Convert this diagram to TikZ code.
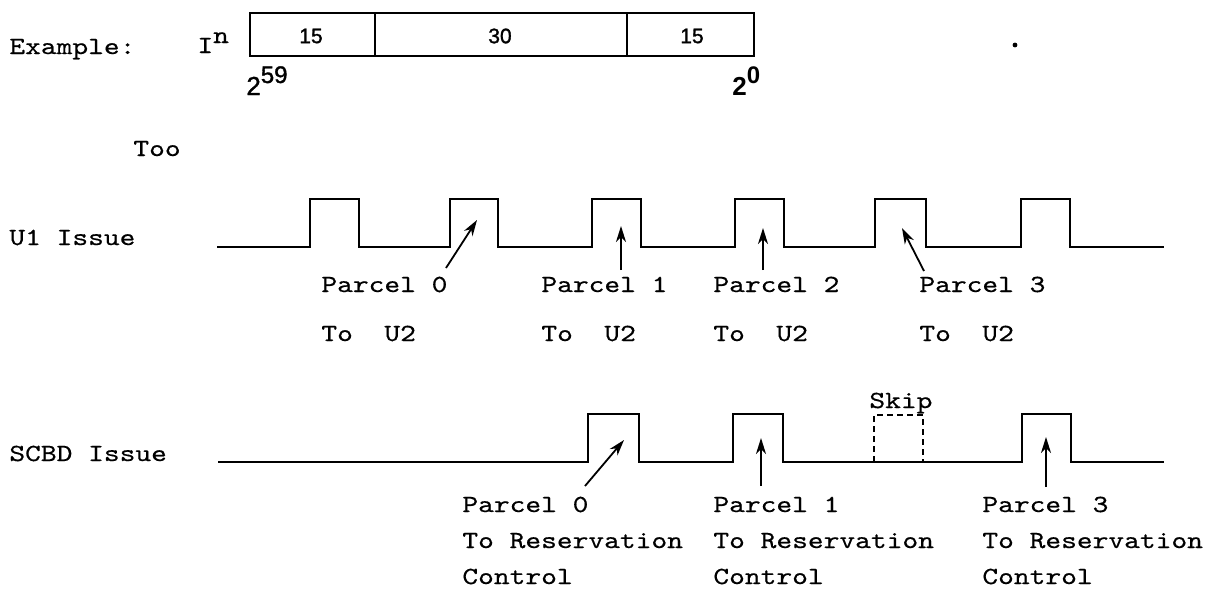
\documentclass[tikz,border=0pt]{standalone}
\usepackage{fontspec}
\usetikzlibrary{arrows.meta}
\newfontfamily\typew{lmmono10-regular.otf}[FakeStretch=1.22,FakeBold=0.5]
\newfontfamily\helv{Liberation Sans}[FakeBold=1.4]
\newfontfamily\helvb{Liberation Sans Bold}
\begin{document}
\begin{tikzpicture}[x=0.5pt,y=-0.5pt,
  tt/.style={font=\fontsize{12.3}{15}\selectfont\typew, inner sep=0pt, anchor=base west},
  num/.style={font=\fontsize{10.5}{12}\selectfont\helv, inner sep=0pt},
  wave/.style={line width=1.2pt, line join=miter},
  field/.style={line width=1.1pt},
  ptr/.style={line width=0.9pt, -{Stealth[length=8pt,width=5pt,inset=2.5pt]}},
  skipbox/.style={line width=0.8pt, dash pattern=on 3pt off 2pt}]
\useasboundingbox (0,0) rectangle (1205,590);
% ---- example word
\node[tt] (ex) at (9,54) {Example:};
\node[tt] (in) at (197,53) {I\raisebox{5pt}{n}};
\draw[field] (250,13) rectangle (754,56);
\draw[field] (375,13) -- (375,56);
\draw[field] (627,13) -- (627,56);
\node[num] (f1) at (311,36) {15};
\node[num] (f2) at (500,36) {30};
\node[num] (f3) at (692,36) {15};
\node[inner sep=0pt, anchor=base west, font=\fontsize{13}{14}\selectfont\helv] (b59) at (246,95) {2\raisebox{6pt}{\fontsize{12}{13}\selectfont 59}};
\node[inner sep=0pt, anchor=base west, font=\fontsize{13}{14}\selectfont\helvb] (b0) at (732,95) {2\raisebox{6pt}{\fontsize{12}{13}\selectfont 0}};
\fill (1015,45) circle (1.2pt);
% ---- Too
\node[tt] (too) at (133,156) {Too};
% ---- U1 issue
\node[tt] (u1) at (9,245) {U1 Issue};
\draw[wave] (217,247) -- (310,247) -- (310,199) -- (359,199) -- (359,247)
  -- (450,247) -- (450,199) -- (498,199) -- (498,247)
  -- (592,247) -- (592,199) -- (641,199) -- (641,247)
  -- (735,247) -- (735,199) -- (784,199) -- (784,247)
  -- (875,247) -- (875,199) -- (926,199) -- (926,247)
  -- (1021,247) -- (1021,199) -- (1070,199) -- (1070,247) -- (1164,247);
\node[tt] (up0) at (321,292) {Parcel 0};
\node[tt] (up1) at (541,292) {Parcel 1};
\node[tt] (up2) at (713,292) {Parcel 2};
\node[tt] (up3) at (919,292) {Parcel 3};
\node[tt] (ut0) at (321,341) {To\ \ U2};
\node[tt] (ut1) at (541,341) {To\ \ U2};
\node[tt] (ut2) at (713,341) {To\ \ U2};
\node[tt] (ut3) at (919,341) {To\ \ U2};
\coordinate (ua0) at (446,268); \coordinate (uh0) at (477,220);
\coordinate (ua1) at (621,270); \coordinate (uh1) at (621,226);
\coordinate (ua2) at (763,270); \coordinate (uh2) at (763,228);
\coordinate (ua3) at (924,271); \coordinate (uh3) at (902,228);
\draw[ptr] (ua0) -- (uh0);
\draw[ptr] (ua1) -- (uh1);
\draw[ptr] (ua2) -- (uh2);
\draw[ptr] (ua3) -- (uh3);
% ---- SCBD issue
\node[tt] (sc) at (9,461) {SCBD Issue};
\draw[wave] (218,462) -- (588,462) -- (588,414) -- (639,414) -- (639,462)
  -- (733,462) -- (733,414) -- (783,414) -- (783,462)
  -- (1022,462) -- (1022,414) -- (1071,414) -- (1071,462) -- (1164,462);
\draw[skipbox] (874,462) -- (874,415) -- (923,415) -- (923,462);
\node[tt] (skip) at (869,408) {Skip};
\node[tt] (sp0) at (462,512) {Parcel 0};
\node[tt] (sp1) at (713,512) {Parcel 1};
\node[tt] (sp3) at (982,512) {Parcel 3};
\node[tt] (st0) at (462,548) {To Reservation};
\node[tt] (st1) at (713,548) {To Reservation};
\node[tt] (st3) at (982,548) {To Reservation};
\node[tt] (sc0) at (462,584) {Control};
\node[tt] (sc1) at (713,584) {Control};
\node[tt] (sc3) at (982,584) {Control};
\coordinate (sa0) at (585,486); \coordinate (sh0) at (624,440);
\coordinate (sa1) at (761,486); \coordinate (sh1) at (761,438);
\coordinate (sa3) at (1046,487); \coordinate (sh3) at (1046,437);
\draw[ptr] (sa0) -- (sh0);
\draw[ptr] (sa1) -- (sh1);
\draw[ptr] (sa3) -- (sh3);
\end{tikzpicture}
\end{document}
